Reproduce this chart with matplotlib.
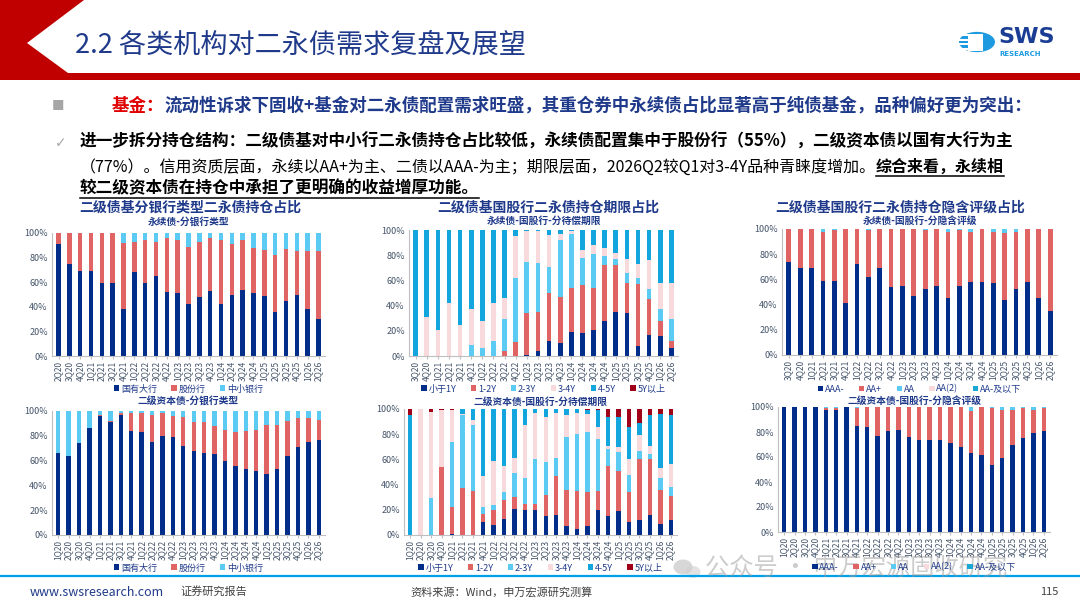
import matplotlib
matplotlib.use("Agg")
import matplotlib.pyplot as plt
import numpy as np
from matplotlib.patches import Polygon, Circle, Rectangle, Ellipse
from matplotlib.lines import Line2D
from matplotlib.ticker import FuncFormatter

plt.rcParams['font.family'] = ['Noto Sans CJK SC', 'DejaVu Sans']

# ---------------- data ----------------
quarters = ["1Q20", "2Q20", "3Q20", "4Q20", "1Q21", "2Q21", "3Q21", "4Q21", "1Q22", "2Q22",
            "3Q22", "4Q22", "1Q23", "2Q23", "3Q23", "4Q23", "1Q24", "2Q24", "3Q24", "4Q24",
            "1Q25", "2Q25", "3Q25", "4Q25", "1Q26", "2Q26"]
cats_a = quarters[1:]   # 2Q20-2Q26
cats_b = quarters[2:]   # 3Q20-2Q26
cats_c = quarters       # 1Q20-2Q26

bank_labels = ["国有大行", "股份行", "中小银行"]
term_labels = ["小于1Y", "1-2Y", "2-3Y", "3-4Y", "4-5Y", "5Y以上"]
rating_labels = ["AAA-", "AA+", "AA", "AA(2)", "AA-及以下"]

# 永续债-分银行类型
perp_big = [91, 75, 69, 69, 59, 59, 38, 68, 59, 65, 52, 51, 42, 48, 53, 42, 50, 54, 51, 49, 36, 45, 50, 38, 30]
perp_joint = [9, 25, 31, 31, 41, 41, 54, 25, 35, 28, 44, 43, 47, 45, 43, 52, 41, 40, 37, 37, 46, 42, 35, 47, 55]
perp_small = [0, 0, 0, 0, 0, 0, 8, 7, 6, 7, 4, 6, 11, 7, 4, 6, 9, 6, 12, 14, 18, 13, 15, 15, 15]

# 永续债-国股行-分待偿期限
perp_lt1 = [0, 0, 0, 0, 0, 0, 0, 0, 0, 0, 1, 4, 12, 10, 19, 18, 21, 28, 35, 34, 8, 17, 16, 6]
perp_1_2 = [0, 0, 0, 0, 0, 0, 0, 0, 4, 11, 33, 31, 38, 37, 35, 38, 33, 44, 37, 24, 49, 28, 12, 6]
perp_2_3 = [0, 0, 0, 0, 0, 9, 6, 12, 25, 51, 41, 39, 21, 45, 43, 22, 27, 7, 5, 8, 5, 8, 9, 17]
perp_3_4 = [0, 31, 21, 42, 25, 28, 22, 30, 17, 33, 24, 25, 25, 5, 2, 6, 7, 7, 5, 11, 11, 23, 21, 29]
perp_4_5 = [100, 69, 79, 58, 75, 63, 72, 58, 54, 5, 1, 1, 4, 3, 1, 16, 12, 14, 18, 23, 27, 24, 42, 42]
perp_5p = [0] * 24

# 永续债-国股行-分隐含评级
perp_aaa = [74, 69, 69, 59, 59, 41, 72, 62, 69, 54, 55, 47, 52, 55, 45, 55, 58, 58, 57, 44, 52, 58, 45, 35]
perp_aap = [26, 31, 31, 39, 40, 59, 28, 37, 31, 46, 45, 53, 47, 45, 53, 44, 40, 42, 41, 53, 46, 42, 55, 65]
perp_aa = [0, 0, 0, 2, 1, 0, 0, 1, 0, 0, 0, 0, 1, 0, 2, 1, 2, 0, 2, 3, 2, 0, 0, 0]
perp_aa2 = [0] * 24
perp_aam = [0] * 24

# 二级资本债-分银行类型
t2_big = [66, 64, 74, 86, 96, 91, 97, 84, 83, 75, 80, 79, 72, 68, 66, 65, 60, 56, 53, 52, 49, 53, 64, 71, 75, 77]
t2_joint = [0, 0, 0, 0, 1, 1, 1, 14, 15, 22, 18, 17, 23, 23, 25, 23, 25, 27, 31, 33, 40, 36, 28, 23, 19, 16]
t2_small = [34, 36, 26, 14, 3, 8, 2, 2, 2, 3, 2, 4, 5, 9, 9, 12, 15, 17, 16, 15, 11, 11, 8, 6, 6, 7]

# 二级资本债-国股行-分待偿期限
t2_lt1 = [0, 0, 0, 0, 1, 0, 0, 10, 8, 13, 21, 20, 20, 15, 16, 7, 5, 7, 20, 15, 19, 10, 12, 16, 9, 12]
t2_1_2 = [0, 0, 0, 54, 21, 37, 35, 7, 12, 15, 9, 5, 5, 17, 31, 29, 30, 27, 15, 40, 32, 24, 48, 44, 27, 19]
t2_2_3 = [0, 0, 29, 0, 52, 58, 52, 5, 4, 6, 19, 20, 35, 26, 14, 42, 45, 48, 41, 13, 15, 14, 7, 4, 9, 7]
t2_3_4 = [0, 100, 69, 45, 25, 1, 4, 25, 35, 21, 12, 42, 37, 36, 36, 17, 17, 14, 10, 3, 4, 12, 12, 7, 8, 18]
t2_4_5 = [95, 0, 0, 0, 0, 4, 9, 53, 41, 45, 39, 13, 3, 6, 3, 5, 3, 3, 13, 23, 24, 26, 10, 24, 43, 39]
t2_5p = [5, 0, 2, 1, 1, 0, 0, 0, 0, 0, 0, 0, 0, 0, 0, 0, 0, 1, 1, 6, 6, 14, 11, 5, 4, 5]

# 二级资本债-国股行-分隐含评级
t2_aaa = [100, 100, 100, 100, 98, 98, 100, 85, 84, 77, 81, 82, 76, 74, 74, 74, 71, 68, 63, 62, 54, 59, 70, 75, 79, 81]
t2_aap = [0, 0, 0, 0, 1, 1, 0, 14, 16, 23, 19, 18, 24, 26, 26, 26, 29, 32, 34, 38, 45, 39, 28, 24, 19, 18]
t2_aa = [0, 0, 0, 0, 1, 1, 0, 1, 0, 0, 0, 0, 0, 0, 0, 0, 0, 0, 3, 0, 1, 2, 2, 1, 2, 1]
t2_aa2 = [0] * 26
t2_aam = [0] * 26

# ---------------- style ----------------
NAVY = "#1F3A8A"
DARK = "#002C8A"
RED = "#E06464"
LBLUE = "#5CCBF3"
PINK = "#F8D9DC"
MBLUE = "#12A5DE"
DRED = "#A00018"
TEAL = "#1AA7D4"
TICK = "#44546A"

bank_colors = [DARK, RED, LBLUE]
term_colors = [DARK, RED, LBLUE, PINK, MBLUE, DRED]
rating_colors = [DARK, RED, LBLUE, PINK, TEAL]

W, H = 1080, 608
fig = plt.figure(figsize=(W / 100, H / 100), dpi=100)
fig.patch.set_facecolor("white")


def fx(x):
    return x / W


def fy(y):
    return 1 - y / H


# ---------------- header ----------------
hdr = Polygon([(fx(0), fy(0)), (fx(84), fy(0)), (fx(27), fy(43)), (fx(68), fy(73)),
               (fx(1080), fy(73)), (fx(1080), fy(80)), (fx(0), fy(80))],
              closed=True, transform=fig.transFigure, facecolor="#C00000", edgecolor="none")
fig.patches.append(hdr)
fig.text(fx(75), fy(45), "2.2 各类机构对二永债需求复盘及展望", fontsize=19.5, color=NAVY,
         va="center", ha="left")

# logo
fig.patches.append(Circle((fx(977), fy(42)), 18 / W, transform=fig.transFigure,
                          facecolor="#1E9BE0", edgecolor="none"))
for k in range(6):
    yy = 29 + k * 4.8
    fig.patches.append(Rectangle((fx(957), fy(yy + 2)), 13 / W, 2 / H, transform=fig.transFigure,
                                 facecolor="white", edgecolor="none"))
fig.patches.append(Rectangle((fx(968), fy(51)), 15 / W, 17 / H, transform=fig.transFigure,
                             facecolor="white", edgecolor="none"))
fig.text(fx(998), fy(37), "SWS", fontsize=16, fontweight="bold", color="#1B3E94",
         family=["DejaVu Sans"], va="center", ha="left")
fig.text(fx(999), fy(54), "RESEARCH", fontsize=5, fontweight="bold", color="#1E9BE0",
         family=["DejaVu Sans"], va="center", ha="left")

# ---------------- body text ----------------
renderer = fig.canvas.get_renderer()


def runs(x, y, parts, size=12):
    cur = fx(x)
    for txt, color, weight, underline in parts:
        t = fig.text(cur, fy(y), txt, fontsize=size, color=color, fontweight=weight,
                     va="baseline", ha="left")
        bb = t.get_window_extent(renderer=renderer)
        if underline:
            fig.lines.append(Line2D([bb.x0 / W, bb.x1 / W], [(bb.y0 - 1.0) / H] * 2,
                                    transform=fig.transFigure, color="black", lw=1.1))
        cur = bb.x1 / W


fig.text(fx(52), fy(110), "■", fontsize=9, color="#A6A6A6", va="baseline", ha="left")
runs(112, 111, [("基金：", "#E00000", "bold", False),
                ("流动性诉求下固收+基金对二永债配置需求旺盛，其重仓券中永续债占比显著高于纯债基金，品种偏好更为突出：",
                 NAVY, "bold", False)], size=12.6)
fig.text(fx(55), fy(147), "✓", fontsize=10, color="#A6A6A6", va="baseline", ha="left",
         family=["DejaVu Sans"])
runs(80, 147, [("进一步拆分持仓结构：二级债基对中小行二永债持仓占比较低，永续债配置集中于股份行（55%），二级资本债以国有大行为主",
                "black", "bold", False)], size=12.0)
runs(80, 172, [("（77%）。信用资质层面，永续以AA+为主、二债以AAA-为主；期限层面，2026Q2较Q1对3-4Y品种青睐度增加。",
                "black", "normal", False),
               ("综合来看，永续相", "black", "bold", True)], size=11.5)
runs(80, 193, [("较二级资本债在持仓中承担了更明确的收益增厚功能。", "black", "bold", True)], size=12.0)

# ---------------- panels ----------------


def panel(box, cats, series, colors, labels, subtitle, sub_y, leg_y):
    x0, y0, x1, y1 = box
    ax = fig.add_axes([fx(x0), fy(y1), (x1 - x0) / W, (y1 - y0) / H])
    n = len(cats)
    xs = np.arange(n)
    bottom = np.zeros(n)
    handles = []
    for vals, c, lab in zip(series, colors, labels):
        v = np.array(vals, dtype=float)
        h = ax.bar(xs, v, 0.42, bottom=bottom, color=c, label=lab, linewidth=0)
        handles.append(h)
        bottom += v
    ax.set_xlim(-0.6, n - 0.4)
    ax.set_ylim(0, 100)
    ax.set_yticks(range(0, 101, 20))
    ax.yaxis.set_major_formatter(FuncFormatter(lambda v, p: f"{int(v)}%"))
    ax.set_xticks(xs)
    ax.set_xticklabels(cats, rotation=90, fontsize=6, color=TICK)
    ax.tick_params(axis="y", labelsize=6.5, labelcolor=TICK, length=0, pad=3)
    ax.tick_params(axis="x", length=2, color="#BFBFBF", pad=1.5)
    for s in ["top", "right"]:
        ax.spines[s].set_visible(False)
    for s in ["left", "bottom"]:
        ax.spines[s].set_color("#BFBFBF")
        ax.spines[s].set_linewidth(0.8)
    cx = (x0 + x1) / 2
    fig.text(fx(cx), fy(sub_y), subtitle, fontsize=7, fontweight="bold", color=NAVY,
             ha="center", va="center")
    fig.legend(handles=handles, labels=labels, loc="center", bbox_to_anchor=(fx(cx), fy(leg_y)),
               ncol=len(labels), frameon=False, fontsize=6.5, handlelength=0.6, handleheight=0.6,
               handletextpad=0.2, columnspacing=1.6, labelcolor=NAVY)
    return ax


top_y0, top_y1 = 233, 356
bot_y0, bot_y1 = 411, 534

fig.text(fx(190), fy(208), "二级债基分银行类型二永债持仓占比", fontsize=10, fontweight="bold",
         color=NAVY, ha="center", va="center")
fig.text(fx(548), fy(208), "二级债基国股行二永债持仓期限占比", fontsize=10, fontweight="bold",
         color=NAVY, ha="center", va="center")
fig.text(fx(900), fy(208), "二级债基国股行二永债持仓隐含评级占比", fontsize=10, fontweight="bold",
         color=NAVY, ha="center", va="center")

panel((52, top_y0, 325, top_y1), cats_a, [perp_big, perp_joint, perp_small], bank_colors,
      bank_labels, "永续债-分银行类型", 222, 389)
panel((409, 230, 678, top_y1), cats_b, [perp_lt1, perp_1_2, perp_2_3, perp_3_4, perp_4_5, perp_5p],
      term_colors, term_labels, "永续债-国股行-分待偿期限", 221, 389)
panel((782, 229, 1057, 355), cats_b, [perp_aaa, perp_aap, perp_aa, perp_aa2, perp_aam],
      rating_colors, rating_labels, "永续债-国股行-分隐含评级", 221, 389)

panel((52, bot_y0, 325, 535), cats_c, [t2_big, t2_joint, t2_small], bank_colors,
      bank_labels, "二级资本债-分银行类型", 402, 568)
panel((404, 409, 677, 535), cats_c, [t2_lt1, t2_1_2, t2_2_3, t2_3_4, t2_4_5, t2_5p],
      term_colors, term_labels, "二级资本债-国股行-分待偿期限", 402, 568)
panel((778, 407, 1050, 532), cats_c, [t2_aaa, t2_aap, t2_aa, t2_aa2, t2_aam],
      rating_colors, rating_labels, "二级资本债-国股行-分隐含评级", 401, 567)

# ---------------- watermark ----------------
fig.patches.append(Ellipse((fx(683), fy(567)), 19 / W, 15 / H, transform=fig.transFigure,
                           facecolor="#BDBDBD", alpha=0.6, edgecolor="none"))
fig.patches.append(Ellipse((fx(693), fy(572)), 15 / W, 12 / H, transform=fig.transFigure,
                           facecolor="#CFCFCF", alpha=0.6, edgecolor="none"))
fig.text(fx(705), fy(569), "公众号 · 申万宏源固收研究", fontsize=17.5, color="#9A9A9A", alpha=0.5,
         ha="left", va="center")

# ---------------- footer ----------------
fig.lines.append(Line2D([0, 1], [fy(576), fy(576)], transform=fig.transFigure,
                        color="#00A0E9", lw=1.6))
fig.text(fx(30), fy(592), "www.swsresearch.com", fontsize=9, color="#1F3A8A", va="center", ha="left")
fig.text(fx(180), fy(591), "证券研究报告", fontsize=8, color="#404040", va="center", ha="left")
fig.text(fx(410), fy(592), "资料来源：Wind，申万宏源研究测算", fontsize=8, color="#404040",
         va="center", ha="left")
fig.text(fx(1058), fy(592), "115", fontsize=8, color="#404040", va="center", ha="right")

fig.savefig("out.png", dpi=100)
